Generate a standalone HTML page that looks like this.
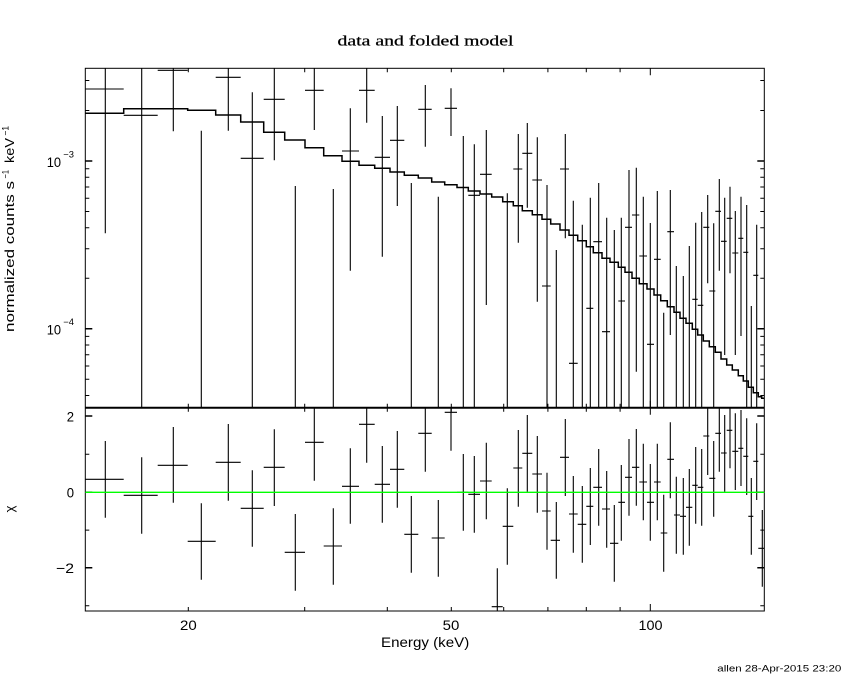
<!DOCTYPE html>
<html>
<head>
<meta charset="utf-8">
<style>
  html, body { margin: 0; padding: 0; background: #fff; }
  svg { display: block; }
  text { font-family: "Liberation Sans", "DejaVu Sans", sans-serif; fill: #000; }
  .serif { font-family: "Liberation Serif", serif; }
</style>
</head>
<body>
<svg width="850" height="680" viewBox="0 0 850 680" xmlns="http://www.w3.org/2000/svg">
  <rect x="0" y="0" width="850" height="680" fill="#fff"/>

  <text class="serif" x="337.5" y="45.5" font-size="15" textLength="176" lengthAdjust="spacingAndGlyphs" stroke="#000" stroke-width="0.25">data and folded model</text>

  <g fill="none" stroke="#000" stroke-width="1">
    <rect x="85.3" y="68.3" width="679" height="542.7"/>
    <path d="M85.3 407.7H764.3" stroke-width="2"/>
  </g>

  <g fill="none" stroke="#000" stroke-width="1">
    <path d="M85.3 161H92.3M85.3 328.7H92.3M764.3 161H757.3M764.3 328.7H757.3" stroke-width="1.5"/>
    <path d="M85.3 80.5H89.3M85.3 110.5H89.3M85.3 168.7H89.3M85.3 177.3H89.3M85.3 187H89.3M85.3 198.2H89.3M85.3 211.5H89.3M85.3 227.7H89.3M85.3 248.7H89.3M85.3 278.2H89.3M85.3 336.4H89.3M85.3 345H89.3M85.3 354.7H89.3M85.3 366H89.3M85.3 379.2H89.3M85.3 395.5H89.3"/>
    <path d="M764.3 80.5H760.3M764.3 110.5H760.3M764.3 168.7H760.3M764.3 177.3H760.3M764.3 187H760.3M764.3 198.2H760.3M764.3 211.5H760.3M764.3 227.7H760.3M764.3 248.7H760.3M764.3 278.2H760.3M764.3 336.4H760.3M764.3 345H760.3M764.3 354.7H760.3M764.3 366H760.3M764.3 379.2H760.3M764.3 395.5H760.3"/>
    <path d="M85.3 416H92.3M85.3 492.3H92.3M85.3 567.7H92.3M764.3 416H757.3M764.3 492.3H757.3M764.3 567.7H757.3" stroke-width="1.5"/>
    <path d="M85.3 454.2H89.3M85.3 530.1H89.3M85.3 605.7H89.3M764.3 454.2H760.3M764.3 530.1H760.3M764.3 605.7H760.3"/>
    <path d="M188.3 68.3V72.3M304.7 68.3V72.3M387.3 68.3V72.3M451.3 68.3V72.3M503.7 68.3V72.3M547.9 68.3V72.3M586.3 68.3V72.3M620.1 68.3V72.3M650.3 68.3V75.3"/>
    <path d="M188.3 407.7V403.7M304.7 407.7V403.7M387.3 407.7V403.7M451.3 407.7V403.7M503.7 407.7V403.7M547.9 407.7V403.7M586.3 407.7V403.7M620.1 407.7V403.7M650.3 407.7V400.7"/>
    <path d="M188.3 407.7V411.7M304.7 407.7V411.7M387.3 407.7V411.7M451.3 407.7V411.7M503.7 407.7V411.7M547.9 407.7V411.7M586.3 407.7V411.7M620.1 407.7V411.7M650.3 407.7V414.7"/>
    <path d="M188.3 611V607M304.7 611V607M387.3 611V607M451.3 611V607M503.7 611V607M547.9 611V607M586.3 611V607M620.1 611V607M650.3 611V604"/>
  </g>

  <path fill="none" stroke="#000" stroke-width="1.5" d="M85.3 113.3H123.7V108.7H187.7V110.3H215.7V115H240.7V122H263.7V132.3H284.7V140H305V147.7H323.7V155.7H342V161.3H359V165.3H374.7V168.3H390V172H404.3V175.3H418.3V178H431.7V182H444.7V184.7H457V187.5H468.3V191H480V194H491.7V197H502.7V201.7H513.3V205.7H522.3V210.7H532.3V214.7H542V219.3H550.7V224H560V230H569V235.3H577.7V240.7H586.3V246.7H593.3V252.7H602V258.3H610V262.3H618.3V267.3H625V272.3H632V278.3H639.3V283.7H647V289H654V295H660.7V300.7H667.3V306.7H674V312.3H680V318.3H686V323.3H692.3V329.3H697.7V335H703.3V341H709.3V346.7H715.3V352.3H721V359H726.7V365H732.3V370H738.3V375.7H743.3V381H748.3V387.3H753.3V392.7H758.3V396.7H761.7V398.3H764.3"/>

  <path fill="none" stroke="#000" stroke-width="1.1" d="M105.3 68.3V233.3M85.3 89H123.7M141.7 68.3V407.7M123.7 115.3H157.7M173.3 68.3V131.3M157.7 70.3H187.7M201.3 130.7V407.7M228.3 68.3V130.7M215.7 77.3H240.7M252.3 92.3V407.7M240.7 158.3H263.7M274.3 68.3V160.3M263.7 99.3H284.7M295.3 186V407.7M314.3 68.3V130M305 90.3H323.7M333.3 189V407.7M350.3 108.3V270.7M342 151H359M366.7 68.3V122.7M359 90.3H374.7M382.3 116V256.7M374.7 157.3H390M397.3 106V206M390 140.3H404.3M411.3 183V407.7M425.3 85V146.7M418.3 109.3H431.7M438.3 196.7V407.7M451 88.3V136M444.7 108.3H457M463.3 136V407.7M457 187.5H468.3M474.3 144.3V407.7M468.3 195.3H480M486.3 130V305M480 174.3H491.7M507.3 193.3V407.7M518.3 134V242.7M513.3 169H522.3M527.3 123V207.7M522.3 153.3H532.3M537.3 137.3V301.7M532.3 180H542M547 185V407.7M542 286H550.7M556.3 250V407.7M565.3 134V238.3M560 169H569M573.3 200.7V407.7M569 363.3H577.7M582.3 224.7V407.7M590.3 197.7V407.7M586.3 308.3H593.3M598.7 183V407.7M593.3 241.7H602M606.7 217.7V407.7M602 331.7H610M614.3 230V407.7M621.3 217.7V407.7M618.3 301H625M629 170V407.7M625 227.3H632M636.3 167.7V371.7M632 215H639.3M643.3 196.7V407.7M639.3 256H647M650.3 223V407.7M647 344.3H654M657.3 191V407.7M654 259.3H660.7M663.7 312.7V407.7M670.3 190V335M667.3 231.7H674M676.3 266V407.7M683.3 276V407.7M689.3 246V407.7M695.7 222.7V407.7M692.3 299.3H697.7M701.7 212V407.7M697.7 305.3H703.3M707.7 195V283.3M703.3 227.3H709.3M713.7 223.3V407.7M709.3 291H715.3M719.3 179V270.7M715.3 211.3H721M724.7 197.7V355M721 241.3H726.7M730 186.7V273.3M726.7 218.3H732.3M735.3 211V355M732.3 253H738.3M741 196.7V336M738.3 238.3H743.3M746.7 205V407.7M743.3 252.3H748.3M751.3 306V407.7M756.7 224.7V407.7M753.3 275.3H758.3"/>

  <path fill="none" stroke="#000" stroke-width="1.1" d="M105.3 441V517.7M85.3 479.3H123.7M141.7 457.3V533.7M123.7 495.3H157.7M173.3 427V502.7M157.7 465.3H187.7M201.3 503.3V579.7M187.7 541.3H215.7M228.3 424V500.7M215.7 462.3H240.7M252.3 470.3V546.7M240.7 508.3H263.7M274.3 429.3V506M263.7 467.3H284.7M295.3 514V590.7M284.7 552.3H305M314.3 408V480.7M305 442.3H323.7M333.3 508.3V584.7M323.7 546H342M350.3 448.3V523.7M342 486.3H359M366.7 408V462.7M359 424.3H374.7M382.3 446V522.7M374.7 484.3H390M397.3 431V507.7M390 469.3H404.3M411.3 496V572.7M404.3 534.3H418.3M425.3 408V471.7M418.3 433.3H431.7M438.3 500V576.7M431.7 538H444.7M451 408V450.7M444.7 412.3H457M463.3 454V530.7M457 492.3H468.3M474.3 456V532.7M468.3 494.3H480M486.3 442.7V519.3M480 481H491.7M497.3 568.3V611M491.7 606.7H502.7M507.3 488.3V564.7M502.7 526.3H513.3M518.3 430V506.7M513.3 468H522.3M527.3 415V491.7M522.3 453.3H532.3M537.3 436V512.7M532.3 474H542M547 472.7V549.7M542 511H550.7M556.3 502V578.7M550.7 540.3H560M565.3 419V496M560 457.3H569M573.3 476V552.7M569 514H577.7M582.3 486V562.7M577.7 524.3H586.3M590.3 468V545M586.3 506.3H593.3M598.7 449V525.7M593.3 487.3H602M606.7 471V547.7M602 509H610M614.3 505V581.7M610 543.3H618.3M621.3 465V540.7M618.3 502.3H625M629 439V515.7M625 477.3H632M636.3 429V505.7M632 467.3H639.3M643.3 443.7V520.3M639.3 482H647M650.3 464V540.7M647 502.3H654M657.3 443.7V520.3M654 482H660.7M663.7 494.7V571.7M660.7 533H667.3M670.3 422.3V498.3M667.3 459.3H674M676.3 476.7V553.7M674 515H680M683.3 478V554.7M680 516.3H686M689.3 469V545.7M686 507.3H692.3M695.7 447V523.7M692.3 485.3H697.7M701.7 449V525.7M697.7 487.3H703.3M707.7 408V475M703.3 436H709.3M713.7 441V516.7M709.3 478.3H715.3M719.3 408V471.7M715.3 433.3H721M724.7 415V491.7M721 453H726.7M730 408V468.3M726.7 430.3H732.3M735.3 413.3V490M732.3 451.3H738.3M741 410V486M738.3 448.3H743.3M746.7 418.3V495M743.3 456.3H748.3M751.3 478V554.7M748.3 516.3H753.3M756.7 423.3V500M753.3 461.3H758.3M762.3 510V586.7M758.3 548.3H764.3"/>

  <path d="M85.3 492.3H764.3" stroke="#00ff00" stroke-width="1.3" fill="none"/>

  <text x="46.7" y="167" font-size="14" textLength="14.3" lengthAdjust="spacingAndGlyphs">10</text>
  <text x="63.3" y="157.5" font-size="9" textLength="10.7" lengthAdjust="spacingAndGlyphs">−3</text>
  <text x="46.7" y="334.7" font-size="14" textLength="14.3" lengthAdjust="spacingAndGlyphs">10</text>
  <text x="63.3" y="325.2" font-size="9" textLength="10.7" lengthAdjust="spacingAndGlyphs">−4</text>

  <text x="66.7" y="421.7" font-size="14" textLength="7.3" lengthAdjust="spacingAndGlyphs">2</text>
  <text x="66.7" y="497.7" font-size="14" textLength="7.3" lengthAdjust="spacingAndGlyphs">0</text>
  <text x="56" y="573.2" font-size="14" textLength="18" lengthAdjust="spacingAndGlyphs">−2</text>

  <text x="180" y="630" font-size="14" textLength="16.7" lengthAdjust="spacingAndGlyphs">20</text>
  <text x="442.7" y="630" font-size="14" textLength="16.7" lengthAdjust="spacingAndGlyphs">50</text>
  <text x="638.5" y="630" font-size="14" textLength="24" lengthAdjust="spacingAndGlyphs">100</text>

  <text x="381" y="647" font-size="13.5" textLength="88.3" lengthAdjust="spacingAndGlyphs">Energy (keV)</text>

  <g transform="rotate(-90)">
    <text x="-332" y="14" font-size="13" textLength="151" lengthAdjust="spacingAndGlyphs">normalized counts s</text>
    <text x="-178.5" y="8.5" font-size="9" textLength="8.5" lengthAdjust="spacingAndGlyphs">−1</text>
    <text x="-163" y="14" font-size="13" textLength="25" lengthAdjust="spacingAndGlyphs">keV</text>
    <text x="-135.5" y="8.5" font-size="9" textLength="9.5" lengthAdjust="spacingAndGlyphs">−1</text>
  </g>

  <text transform="translate(14,509) rotate(-90)" text-anchor="middle" font-size="13">χ</text>

  <text x="717.3" y="671.5" font-size="9.5" textLength="124" lengthAdjust="spacingAndGlyphs">allen 28-Apr-2015 23:20</text>
</svg>
</body>
</html>
